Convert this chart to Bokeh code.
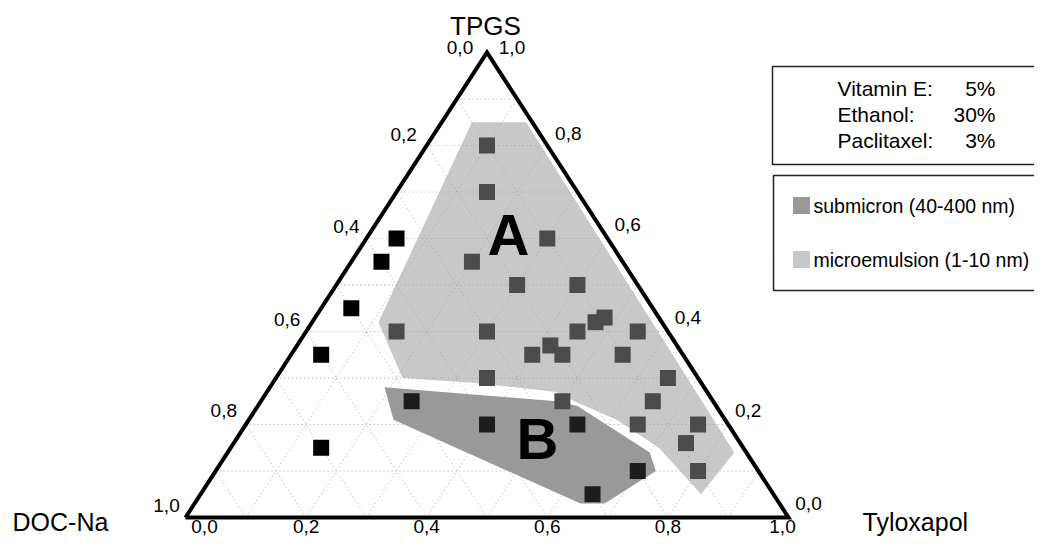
from bokeh.plotting import figure
from bokeh.models import Range1d, ColumnDataSource
from bokeh.core.properties import value
from bokeh.embed import file_html
from bokeh.resources import INLINE

# ---------------- data (mass fractions; DOC-Na = 1 - Tyloxapol - TPGS) ----------------
ticks = [0.0, 0.2, 0.4, 0.6, 0.8, 1.0]
tick_labels = ["0,0", "0,2", "0,4", "0,6", "0,8", "1,0"]
axis_names = ["TPGS", "DOC-Na", "Tyloxapol"]

# formulations inside region A (grey squares)
a_tylox = [0.10, 0.15, 0.30, 0.20, 0.30, 0.40, 0.15, 0.30, 0.40, 0.42, 0.45, 0.45,
           0.47, 0.48, 0.55, 0.55, 0.35, 0.65, 0.65, 0.65, 0.75, 0.75, 0.80, 0.50]
a_tpgs = [0.80, 0.70, 0.60, 0.55, 0.50, 0.50, 0.40, 0.40, 0.35, 0.37, 0.35, 0.40,
          0.42, 0.43, 0.40, 0.35, 0.30, 0.30, 0.25, 0.20, 0.20, 0.16, 0.10, 0.25]
# formulations inside region B (dark squares)
b_tylox = [0.25, 0.40, 0.55, 0.70, 0.65]
b_tpgs = [0.25, 0.20, 0.20, 0.10, 0.05]
# formulations outside both regions (black squares)
o_tylox = [0.05, 0.05, 0.05, 0.05, 0.15]
o_tpgs = [0.60, 0.55, 0.45, 0.35, 0.15]

# region outlines
region_a_tylox = [0.05, 0.14, 0.84, 0.83, 0.71, 0.61, 0.52, 0.48, 0.33, 0.21, 0.11]
region_a_tpgs = [0.85, 0.85, 0.14, 0.05, 0.15, 0.21, 0.25, 0.27, 0.29, 0.30, 0.42]
region_b_tylox = [0.19, 0.24, 0.64, 0.68, 0.73, 0.70, 0.53, 0.49]
region_b_tpgs = [0.28, 0.21, 0.03, 0.03, 0.10, 0.14, 0.24, 0.25]

info_labels = ["Vitamin E:", "Ethanol:", "Paclitaxel:"]
info_values = ["5%", "30%", "3%"]
legend_labels = ["submicron (40-400 nm)", "microemulsion (1-10 nm)"]

# ---------------- geometry ----------------
W, H = 1034, 538
SX, SY = 603.0, 465.0          # pixels per unit
OX, OY = 185.0, 517.0          # pixel of the DOC-Na corner
x0 = -OX / SX
x1 = x0 + W / SX
y1 = 1 + (OY - SY) / SY
y0 = y1 - H / SY


def tern(t, p):
    return [ti + pi / 2 for ti, pi in zip(t, p)], list(p)


def sx(px):
    return x0 + px / SX


def sy(py):
    return y1 - py / SY


FONT = value("Liberation Sans")
COL_A = "#c8c8c8"
COL_B = "#999999"

p = figure(width=W, height=H, x_range=Range1d(x0, x1), y_range=Range1d(y0, y1),
           output_backend="svg", toolbar_location=None, min_border=0,
           x_axis_type=None, y_axis_type=None, outline_line_color=None)
p.grid.visible = False
p.background_fill_color = "white"
p.border_fill_color = "white"

# regions
ax, ay = tern(region_a_tylox, region_a_tpgs)
bx, by = tern(region_b_tylox, region_b_tpgs)
p.patch(ax, ay, fill_color=COL_A, line_color=None)
p.patch(bx, by, fill_color=COL_B, line_color=None)

# dotted ternary grid every 0.1
gx, gy = [], []
for i in range(1, 10):
    v = i / 10
    a, b = tern([0, 1 - v], [v, v]); gx.append(a); gy.append(b)
    a, b = tern([v, v], [0, 1 - v]); gx.append(a); gy.append(b)
    a, b = tern([1 - v, 0], [0, 1 - v]); gx.append(a); gy.append(b)
p.multi_line(gx, gy, line_color="#a5a5a5", line_width=1, line_dash="1 3")

# triangle
tx, ty = tern([0, 1, 0, 0], [0, 0, 1, 0])
p.line(tx, ty, line_color="black", line_width=4, line_join="miter")

# points
px_, py_ = tern(a_tylox, a_tpgs)
p.scatter(px_, py_, marker="square", size=16, fill_color="#4b4b4b", line_color=None)
px_, py_ = tern(b_tylox, b_tpgs)
p.scatter(px_, py_, marker="square", size=16, fill_color="#1d1d1d", line_color=None)
px_, py_ = tern(o_tylox, o_tpgs)
p.scatter(px_, py_, marker="square", size=16, fill_color="#000000", line_color=None)

# region letters
p.text([sx(508), sx(537)], [sy(234), sy(438)], text=["A", "B"], text_font=FONT,
       text_font_size="58px", text_font_style="bold", text_align="center",
       text_baseline="middle", text_color="black")


def tick_text(xs, ys, dx, dy):
    src = ColumnDataSource(dict(x=xs, y=ys, t=tick_labels, dx=dx, dy=dy))
    p.text(x="x", y="y", text="t", x_offset="dx", y_offset="dy", source=src,
           text_font=FONT, text_font_size="19px", text_align="center",
           text_baseline="middle")


zeros = [0.0] * len(ticks)
bx_, by_ = tern(ticks, zeros)
tick_text(bx_, by_, [19, 0, 0, 0, 0, -6], [9] * len(ticks))
rx, ry = tern([1 - v for v in ticks], ticks)
tick_text(rx, ry, [20, 20, 20, 20, 21, 25], [-14, -14, -14, -14, -12, -5])
lx, ly = tern(zeros, [1 - v for v in ticks])
tick_text(lx, ly, [-27, -23, -20, -19, -22, -19], [-5, -11, -12, -12, -14, -12])

# axis names
p.text([sx(485)], [sy(25)], text=[axis_names[0]], text_font=FONT, text_font_size="26px",
       text_align="center", text_baseline="middle")
p.text([sx(12), sx(862)], [sy(521), sy(521)], text=axis_names[1:], text_font=FONT,
       text_font_size="25px", text_align="left", text_baseline="middle")

# info box (its right side runs off the picture, as in the original)
p.quad(left=[sx(772)], right=[sx(1060)], top=[sy(66)], bottom=[sy(164)],
       fill_color="white", line_color="#222222", line_width=1.5)
rows = [88, 114, 140]
p.text([sx(837)] * 3, [sy(r) for r in rows], text=info_labels, text_font=FONT,
       text_font_size="21px", text_align="left", text_baseline="middle")
p.text([sx(995)] * 3, [sy(r) for r in rows], text=info_values, text_font=FONT,
       text_font_size="21px", text_align="right", text_baseline="middle")

# legend box
p.quad(left=[sx(773)], right=[sx(1060)], top=[sy(175)], bottom=[sy(290)],
       fill_color="white", line_color="#222222", line_width=1.5)
lrows = [205, 259]
p.scatter([sx(801)] * 2, [sy(r) for r in lrows], marker="square", size=17,
          fill_color=[COL_B, COL_A], line_color=None)
p.text([sx(813)] * 2, [sy(r) for r in lrows], text=legend_labels, text_font=FONT,
       text_font_size="19.5px", text_align="left", text_baseline="middle")

open("out.html", "w").write(file_html(p, INLINE))
